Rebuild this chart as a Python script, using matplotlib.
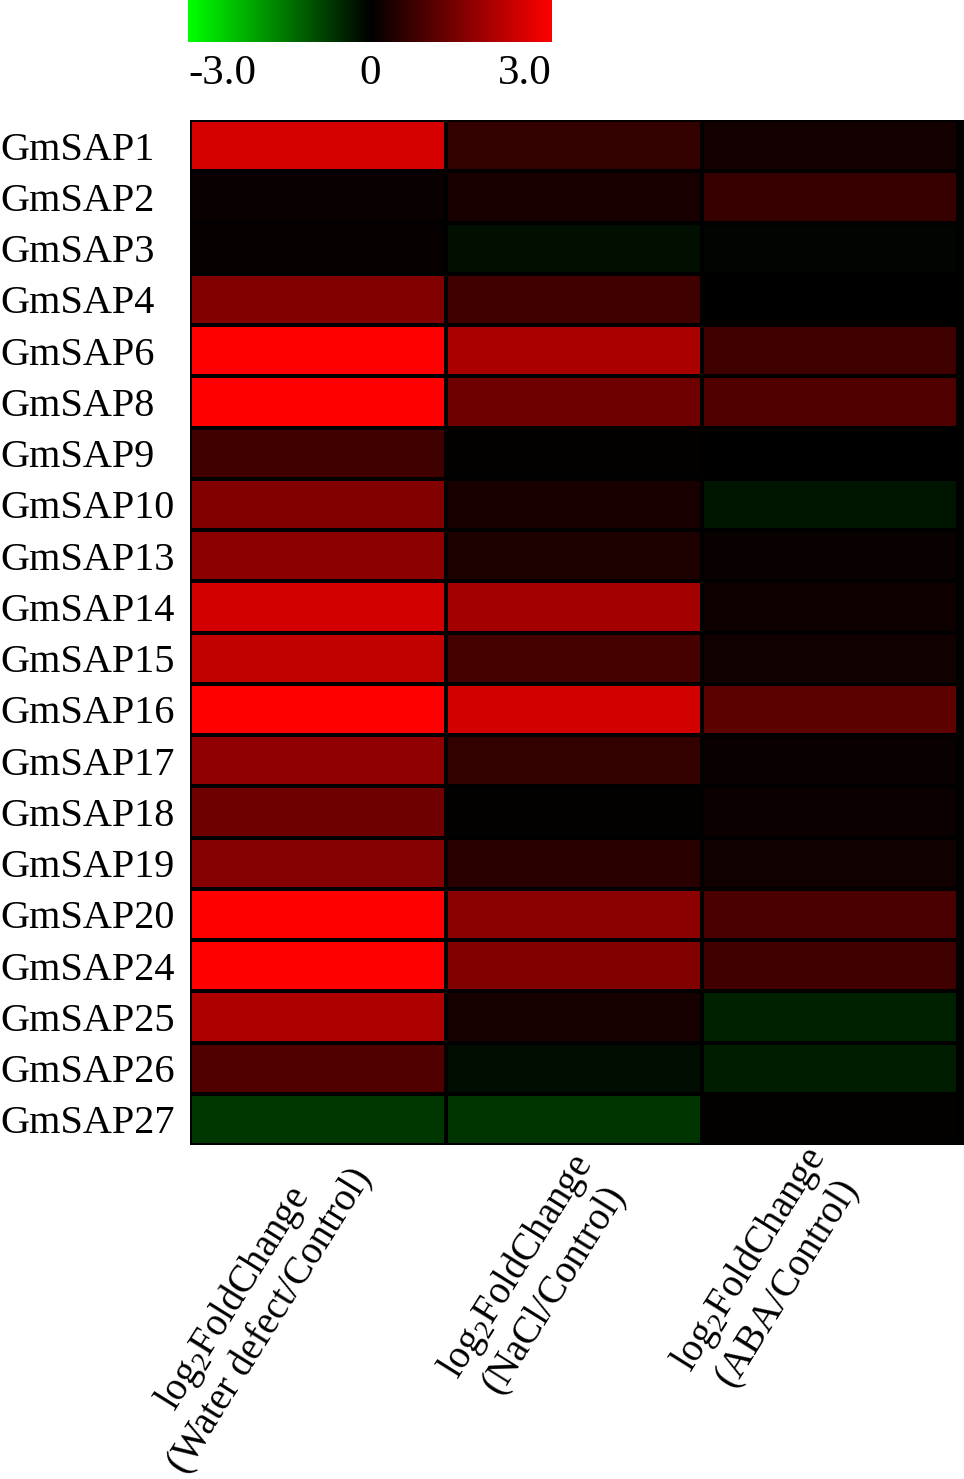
import numpy as np
import matplotlib
matplotlib.use("Agg")
from matplotlib import pyplot as plt
from matplotlib.colors import LinearSegmentedColormap
from matplotlib.transforms import blended_transform_factory, ScaledTranslation

plt.rcParams["font.family"] = ["Liberation Serif", "DejaVu Serif"]
plt.rcParams["mathtext.fontset"] = "custom"
plt.rcParams["mathtext.rm"] = "Liberation Serif"
plt.rcParams["mathtext.it"] = "Liberation Serif:italic"

genes = [
    "GmSAP1", "GmSAP2", "GmSAP3", "GmSAP4", "GmSAP6", "GmSAP8", "GmSAP9",
    "GmSAP10", "GmSAP13", "GmSAP14", "GmSAP15", "GmSAP16", "GmSAP17",
    "GmSAP18", "GmSAP19", "GmSAP20", "GmSAP24", "GmSAP25", "GmSAP26", "GmSAP27",
]
conditions = [
    "log$_2$FoldChange\n(Water defect/Control)",
    "log$_2$FoldChange\n(NaCl/Control)",
    "log$_2$FoldChange\n(ABA/Control)",
]

# log2 fold change
water = [2.5, 0.1, 0.08, 1.5, 3.0, 3.0, 0.75, 1.5, 1.65, 2.47,
         2.25, 3.0, 1.7, 1.3, 1.55, 3.0, 3.0, 2.05, 0.94, -0.65]
nacl = [0.6, 0.3, -0.18, 0.75, 2.0, 1.3, 0.03, 0.3, 0.35, 1.9,
        0.8, 2.47, 0.6, 0.03, 0.47, 1.62, 1.5, 0.26, -0.16, -0.62]
aba = [0.22, 0.65, -0.05, 0.0, 0.75, 0.95, 0.0, -0.24, 0.1, 0.18,
       0.2, 1.1, 0.1, 0.12, 0.2, 0.88, 0.76, -0.38, -0.35, 0.03]

data = np.array([water, nacl, aba]).T

cmap = LinearSegmentedColormap.from_list("gkr", [(0, 1, 0), (0, 0, 0), (1, 0, 0)])

W, H = 964, 1479
fig = plt.figure(figsize=(W / 100, H / 100), dpi=100)

# heatmap
ax = fig.add_axes([190 / W, 1 - 1145 / H, 774 / W, 1025 / H])
ax.set_facecolor("black")
mesh = ax.pcolormesh(data, cmap=cmap, vmin=-3, vmax=3, edgecolors="black", linewidth=2.6)
ax.set_xlim(0, 3 * 774 / 768)
ax.set_ylim(len(genes), 0)
for s in ax.spines.values():
    s.set_visible(False)

ax.set_yticks(np.arange(len(genes)) + 0.5)
ax.set_yticklabels(genes, fontsize=29, ha="left")
ax.tick_params(axis="y", length=0, pad=190 / 100 * 72)

# rotated column labels, top right corner tucked under each column
ax.set_xticks([])
label_shift = [(-9, 7), (-7, -2), (-30, 5)]  # pixel nudges per label
base = blended_transform_factory(ax.transData, ax.transAxes)
for i, lab in enumerate(conditions):
    dx, dy = label_shift[i]
    trans = base + ScaledTranslation(dx / 100, dy / 100, fig.dpi_scale_trans)
    ax.text(i + 0.5, 0, lab, transform=trans, fontsize=28, rotation=58,
            ha="right", va="top", rotation_mode="anchor",
            multialignment="center", linespacing=1.15)

# colour bar
cax = fig.add_axes([188 / W, 1 - 42 / H, 364 / W, 42 / H])
cb = fig.colorbar(mesh, cax=cax, orientation="horizontal")
cb.outline.set_visible(False)
cax.set_xticks([-3, 0, 3])
cax.set_xticklabels(["-3.0", "0", "3.0"], fontsize=31)
labels = cax.get_xticklabels()
labels[0].set_ha("left")
labels[2].set_ha("right")
cax.tick_params(axis="x", length=0, pad=9)

fig.savefig("out.png", dpi=100)
